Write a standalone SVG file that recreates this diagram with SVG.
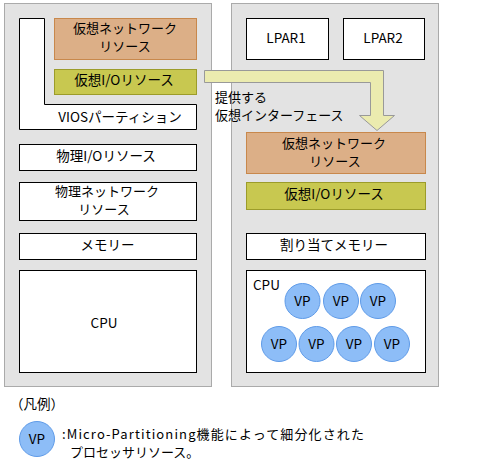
<svg xmlns="http://www.w3.org/2000/svg" width="486" height="463" viewBox="0 0 486 463">
<style>
text{font-family:"Noto Sans CJK JP","Noto Sans",sans-serif;font-size:13.5px;fill:#000}
.t2{font-size:13px}
.m{text-anchor:middle}
.panel{fill:#e3e3e3;stroke:#aaaaaa;stroke-width:1}
.wb{fill:#fff;stroke:#000;stroke-width:1}
.net{fill:#dcaf87;stroke:#c8884c;stroke-width:1}
.io{fill:#c8c850;stroke:#9c9c2a;stroke-width:1}
.vp{fill:#8dbdf7;stroke:#5f9be8;stroke-width:1}
.arrow{fill:#ebebaf;stroke:#999;stroke-width:1}
</style>
<rect width="486" height="463" fill="#fff"/>
<g id="vios-panel"><rect class="panel" x="4.5" y="3.5" width="207" height="383"/></g>
<g id="lpar-panel"><rect class="panel" x="231.5" y="3.5" width="207" height="383"/></g>
<g id="vios-partition">
<polygon class="wb" points="19.5,18.5 44.5,18.5 44.5,104.5 196.5,104.5 196.5,129.5 19.5,129.5"/>
<text class="m" x="120" y="121.5">VIOSパーティション</text>
</g>
<g id="vios-vnet">
<rect class="net" x="54.5" y="18.5" width="142" height="41"/>
<text class="m t2" x="125" y="32.5">仮想ネットワーク<tspan x="125" dy="18">リソース</tspan></text>
</g>
<g id="vios-vio">
<rect class="io" x="54.5" y="69.5" width="142" height="25"/>
<text class="m" x="124" y="85">仮想I/Oリソース</text>
</g>
<g id="phys-io">
<rect class="wb" x="19.5" y="144.5" width="177" height="26"/>
<text class="m" x="106" y="161">物理I/Oリソース</text>
</g>
<g id="phys-net">
<rect class="wb" x="19.5" y="182.5" width="177" height="38"/>
<text class="m t2" x="107" y="196">物理ネットワーク<tspan x="104" dy="18">リソース</tspan></text>
</g>
<g id="memory">
<rect class="wb" x="19.5" y="233.5" width="177" height="26"/>
<text class="m" x="107.5" y="250">メモリー</text>
</g>
<g id="cpu">
<rect class="wb" x="19.5" y="270.5" width="177" height="102"/>
<text class="m" x="104" y="328">CPU</text>
</g>
<g id="lpar1">
<rect class="wb" x="246.5" y="18.5" width="82" height="41"/>
<text class="m" x="286" y="43">LPAR1</text>
</g>
<g id="lpar2">
<rect class="wb" x="343.5" y="18.5" width="81" height="41"/>
<text class="m" x="383" y="43">LPAR2</text>
</g>
<g id="lpar-vnet">
<rect class="net" x="246.5" y="132.5" width="179" height="41"/>
<text class="m t2" x="334" y="147.5">仮想ネットワーク<tspan x="335" dy="18">リソース</tspan></text>
</g>
<g id="lpar-vio">
<rect class="io" x="246.5" y="182.5" width="179" height="27"/>
<text class="m" x="334" y="199">仮想I/Oリソース</text>
</g>
<g id="lpar-memory">
<rect class="wb" x="246.5" y="233.5" width="179" height="26"/>
<text class="m" x="334" y="250">割り当てメモリー</text>
</g>
<g id="lpar-cpu">
<rect class="wb" x="246.5" y="270.5" width="179" height="102"/>
<text x="253" y="290">CPU</text>
<g id="vp-circles">
<circle class="vp" cx="302.5" cy="301" r="17.5"/>
<circle class="vp" cx="341" cy="301" r="17.5"/>
<circle class="vp" cx="378" cy="301" r="17.5"/>
<circle class="vp" cx="279" cy="344" r="17.5"/>
<circle class="vp" cx="316.5" cy="344" r="17.5"/>
<circle class="vp" cx="354" cy="344" r="17.5"/>
<circle class="vp" cx="392" cy="344" r="17.5"/>
<text class="m" x="302.5" y="306">VP</text>
<text class="m" x="341" y="306">VP</text>
<text class="m" x="378" y="306">VP</text>
<text class="m" x="279" y="349">VP</text>
<text class="m" x="316.5" y="349">VP</text>
<text class="m" x="354" y="349">VP</text>
<text class="m" x="392" y="349">VP</text>
</g>
</g>
<g id="connectors">
<polygon class="arrow" points="204.5,70.5 383.5,70.5 383.5,115.5 394.5,115.5 377,130.5 359.5,115.5 370.5,115.5 370.5,82.5 204.5,82.5"/>
<text class="t2" x="215" y="102">提供する<tspan x="215" dy="18">仮想インターフェース</tspan></text>
</g>
<g id="legend">
<text x="10" y="409">（凡例）</text>
<circle class="vp" cx="37" cy="439" r="17.5"/>
<text class="m" x="37" y="444">VP</text>
<text class="t2" x="62" y="438.5"><tspan textLength="302" lengthAdjust="spacing">:Micro-Partitioning機能によって細分化された</tspan><tspan x="70" dy="18">プロセッサリソース。</tspan></text>
</g>
</svg>
